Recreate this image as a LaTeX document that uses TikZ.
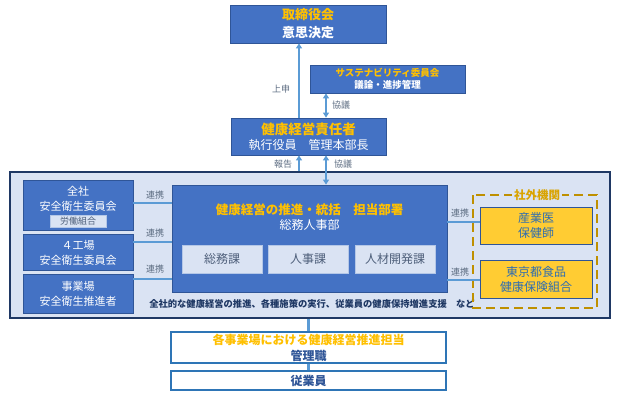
\documentclass[tikz,border=0pt]{standalone}
\usepackage{fontspec}
\setmainfont{Noto Sans CJK JP}
\usetikzlibrary{arrows.meta}

\definecolor{boxblue}{HTML}{4472C4}
\definecolor{blkline}{HTML}{2F5597}
\definecolor{titleyellow}{HTML}{FFC000}
\definecolor{framefill}{HTML}{DAE3F3}
\definecolor{frameline}{HTML}{1F3864}
\definecolor{linkblue}{HTML}{5B9BD5}
\definecolor{subfill}{HTML}{DAE3F3}
\definecolor{subline}{HTML}{B4C7E7}
\definecolor{subtext}{HTML}{4E5F7A}
\definecolor{tagtext}{HTML}{5B6B80}
\definecolor{goldline}{HTML}{BF9000}
\definecolor{extfill}{HTML}{FFCC33}
\definecolor{exttext}{HTML}{2F6DB0}
\definecolor{wline}{HTML}{2E75B6}

\begin{document}
\begin{tikzpicture}[x=1pt, y=-1pt,
   blkbox/.style={draw=blkline, fill=boxblue, line width=0.8pt, text=white, align=center, inner sep=0pt},
   secbox/.style={draw=subline, fill=subfill, text=subtext, font=\fontsize{12}{14}\selectfont,
      minimum width=80pt, minimum height=28pt, inner sep=0pt},
   extbox/.style={draw=blkline, fill=extfill, text=exttext, align=center, line width=0.8pt,
      minimum width=112pt, inner sep=0pt, font=\fontsize{12}{15}\selectfont},
   whitebox/.style={draw=wline, fill=white, line width=1.5pt, align=center, minimum width=275pt, inner sep=0pt},
   linkline/.style={draw=linkblue, line width=2.5pt},
   flowarrow/.style={draw=linkblue, line width=1.8pt, -{Triangle[width=6pt,length=5pt]}},
   twoarrow/.style={draw=linkblue, line width=1.8pt, {Triangle[width=6pt,length=5pt]}-{Triangle[width=6pt,length=5pt]}},
   tagtxt/.style={text=tagtext, font=\fontsize{9}{10}\selectfont, inner sep=0pt},
   yeltxt/.style={text=titleyellow, font=\bfseries}
]
\useasboundingbox (0,0) rectangle (624,400);

% top
\node[blkbox, minimum width=156pt, minimum height=38pt, font=\fontsize{13}{18}\selectfont\bfseries] (board) at (308,24)
   {\textcolor{titleyellow}{取締役会}\\意思決定};
\node[blkbox, minimum width=155pt, minimum height=28pt, font=\fontsize{9.5}{12.5}\selectfont\bfseries] (sust) at (387.5,79)
   {\textcolor{titleyellow}{サステナビリティ委員会}\\議論・進捗管理};
\node[blkbox, minimum width=155pt, minimum height=37pt, font=\fontsize{12}{15}\selectfont] (resp) at (308.5,136.5)
   {\textcolor{titleyellow}{\fontsize{13.5}{15}\selectfont\bfseries 健康経営責任者}\\執行役員　管理本部長};

% frame
\node[draw=frameline, fill=framefill, line width=1.8pt, minimum width=600pt, minimum height=146pt, inner sep=0pt] (frame) at (310,245) {};

% left committees
\node[blkbox, minimum width=110pt, minimum height=50pt] (zensha) at (78,205) {};
\node[text=white, align=center, font=\fontsize{11}{15}\selectfont, inner sep=0pt] (zenshatxt) at (78,198.5) {全社\\安全衛生委員会};
\node[draw=subline, fill=subfill, text=subtext, font=\fontsize{9}{10}\selectfont, minimum width=56pt, minimum height=12pt, inner sep=0pt] (union) at (78,221) {労働組合};
\node[blkbox, minimum width=110pt, minimum height=36pt, font=\fontsize{11}{15}\selectfont] (kojo) at (78,252.5) {４工場\\安全衛生委員会};
\node[blkbox, minimum width=110pt, minimum height=39pt, font=\fontsize{11}{15}\selectfont] (jigyo) at (78,294) {事業場\\安全衛生推進者};

% department
\node[blkbox, minimum width=275pt, minimum height=107pt] (dept) at (309.5,238.5) {};
\node[yeltxt, font=\fontsize{12.5}{14}\selectfont\bfseries, inner sep=0pt] (depttitle) at (309.5,210) {健康経営の推進・統括　担当部署};
\node[text=white, font=\fontsize{12}{14}\selectfont, inner sep=0pt] (deptname) at (309.5,225) {総務人事部};
\node[secbox] (somu) at (222,259) {総務課};
\node[secbox] (jinji) at (308,259) {人事課};
\node[secbox] (jinzai) at (395,259) {人材開発課};
\node[text=frameline, font=\fontsize{9.3}{10}\selectfont\bfseries, inner sep=0pt] (mission) at (312,304)
   {全社的な健康経営の推進、各種施策の実行、従業員の健康保持増進支援　など};

% external
\draw[goldline, line width=2.5pt, dash pattern=on 9pt off 5pt] (473,195) rectangle (597,308);
\node[yeltxt, fill=framefill, font=\fontsize{11.5}{13}\selectfont\bfseries, inner sep=2pt, text=titleyellow!85!black] (outside) at (537,195) {社外機関};
\node[extbox, minimum height=37pt] (sangyo) at (536,225.5) {産業医\\保健師};
\node[extbox, minimum height=38pt] (kenpo) at (536,279) {東京都食品\\健康保険組合};

% bottom
\node[whitebox, minimum height=31pt, font=\fontsize{12}{16}\selectfont\bfseries] (mgr) at (308.5,347.5)
   {\textcolor{titleyellow}{各事業場における健康経営推進担当}\\\textcolor{blkline}{管理職}};
\node[whitebox, minimum height=19pt, font=\fontsize{12}{14}\selectfont\bfseries, text=blkline] (emp) at (308.5,380.5) {従業員};

% helper coordinates
\coordinate (ax) at (299,0);
\coordinate (bx) at (326,0);
\coordinate (cx) at (308,0);
\coordinate (l1) at (0,203);
\coordinate (l2) at (0,242);
\coordinate (l3) at (0,279);
\coordinate (r1) at (0,222);
\coordinate (r2) at (0,280);

% arrows
\draw[flowarrow] (resp.north -| ax) -- (board.south -| ax);
\draw[twoarrow] (sust.south -| bx) -- (resp.north -| bx);
\draw[flowarrow] (frame.north -| ax) -- (resp.south -| ax);
\draw[twoarrow] (resp.south -| bx) -- (dept.north -| bx);
\node[tagtxt] (jojin) at (281,89) {上申};
\node[tagtxt] (kyogi1) at (341,105) {協議};
\node[tagtxt] (hokoku) at (283,164) {報告};
\node[tagtxt] (kyogi2) at (343,164) {協議};

% links
\draw[linkline] (zensha.east |- l1) -- (dept.west |- l1);
\draw[linkline] (kojo.east |- l2) -- (dept.west |- l2);
\draw[linkline] (jigyo.east |- l3) -- (dept.west |- l3);
\draw[linkline] (dept.east |- r1) -- (sangyo.west |- r1);
\draw[linkline] (dept.east |- r2) -- (kenpo.west |- r2);
\node[tagtxt] (renkei1) at (155,195) {連携};
\node[tagtxt] (renkei2) at (155,233) {連携};
\node[tagtxt] (renkei3) at (155,269) {連携};
\node[tagtxt] (renkei4) at (460,213) {連携};
\node[tagtxt] (renkei5) at (460,272) {連携};

\draw[linkline, line width=3pt] (frame.south -| cx) -- (mgr.north -| cx);
\draw[linkline, line width=3pt] (mgr.south -| cx) -- (emp.north -| cx);
\end{tikzpicture}
\end{document}
